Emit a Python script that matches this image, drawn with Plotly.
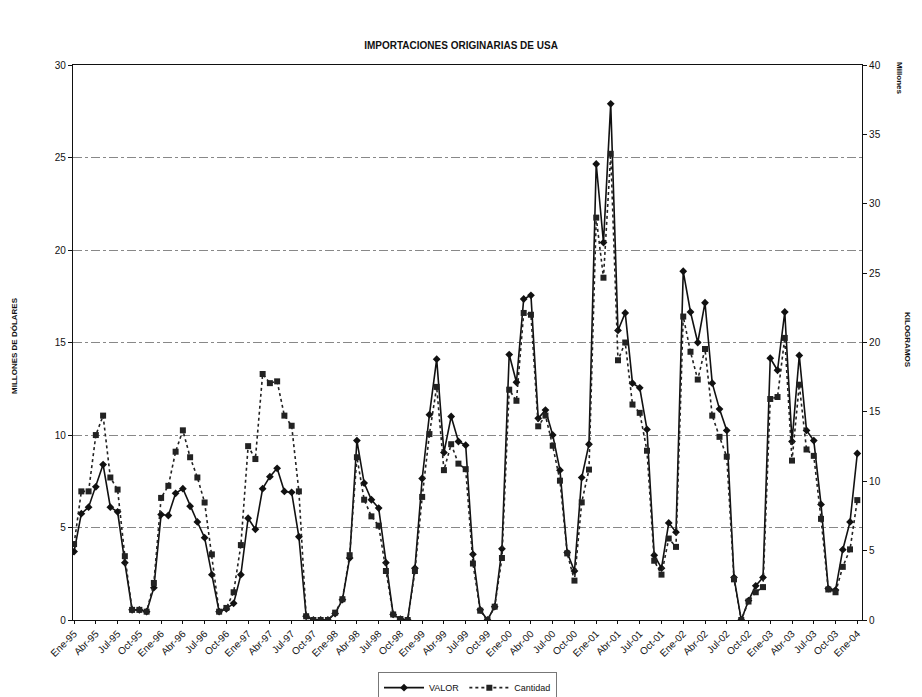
import plotly.graph_objects as go

meses = ["Ene", "Feb", "Mar", "Abr", "May", "Jun", "Jul", "Ago", "Sep", "Oct", "Nov", "Dic"]
anios = ["95", "96", "97", "98", "99", "00", "01", "02", "03"]
categorias = [f"{m}-{a}" for a in anios for m in meses] + ["Ene-04"]

# Millones de dólares (eje izquierdo)
valor = [
    3.7, 5.75, 6.1, 7.2, 8.4, 6.1, 5.85, 3.1, 0.55, 0.55, 0.45, 1.75,
    5.7, 5.65, 6.85, 7.1, 6.15, 5.3, 4.45, 2.45, 0.45, 0.6, 0.9, 2.45,
    5.5, 4.9, 7.1, 7.75, 8.2, 6.95, 6.9, 4.5, 0.2, 0.0, 0.0, 0.0,
    0.35, 1.1, 3.35, 9.7, 7.4, 6.5, 6.05, 3.1, 0.3, 0.05, 0.0, 2.8,
    7.65, 11.1, 14.1, 9.05, 11.0, 9.65, 9.45, 3.55, 0.55, 0.0, 0.72, 3.85,
    14.35, 12.85, 17.35, 17.55, 10.9, 11.35, 10.0, 8.1, 3.65, 2.65, 7.7, 9.5,
    24.65, 20.4, 27.9, 15.65, 16.6, 12.8, 12.55, 10.3, 3.5, 2.8, 5.25, 4.75,
    18.85, 16.65, 15.0, 17.15, 12.8, 11.4, 10.25, 2.3, 0.0, 1.05, 1.85, 2.3,
    14.15, 13.5, 16.65, 9.65, 14.3, 10.25, 9.7, 6.25, 1.7, 1.62, 3.8, 5.3,
    9.0,
]

# Millones de kilogramos (eje derecho)
cantidad = [
    5.47, 9.27, 9.27, 13.33, 14.73, 10.27, 9.4, 4.6, 0.73, 0.73, 0.6, 2.67,
    8.8, 9.67, 12.13, 13.67, 11.73, 10.27, 8.47, 4.73, 0.6, 0.87, 2.0, 5.4,
    12.53, 11.6, 17.73, 17.07, 17.2, 14.73, 14.0, 9.27, 0.27, 0.0, 0.0, 0.0,
    0.53, 1.5, 4.67, 11.73, 8.67, 7.47, 6.8, 3.53, 0.4, 0.07, 0.0, 3.53,
    8.87, 13.4, 16.8, 10.8, 12.67, 11.27, 10.87, 4.07, 0.67, 0.0, 0.96, 4.47,
    16.6, 15.8, 22.13, 22.0, 13.96, 14.73, 12.56, 10.04, 4.8, 2.84, 8.48, 10.84,
    29.0, 24.67, 33.6, 18.72, 20.0, 15.53, 14.93, 12.2, 4.27, 3.27, 5.87, 5.27,
    21.87, 19.33, 17.33, 19.53, 14.73, 13.2, 11.77, 2.93, 0.0, 1.33, 2.0, 2.37,
    15.93, 16.07, 20.33, 11.49, 16.96, 12.29, 11.83, 7.29, 2.2, 2.0, 3.83, 5.09,
    8.64,
]

ticks_x = categorias[::3]
ticks_izq = [0, 5, 10, 15, 20, 25, 30]
ticks_der = [0, 5, 10, 15, 20, 25, 30, 35, 40]

FONT = "Arial, Liberation Sans, sans-serif"

fig = go.Figure()
fig.add_trace(go.Scatter(
    x=categorias, y=valor, name="VALOR", mode="lines+markers",
    line=dict(color="#111111", width=1.6),
    marker=dict(symbol="diamond", size=6, color="#111111"),
    yaxis="y",
))
fig.add_trace(go.Scatter(
    x=categorias, y=cantidad, name="Cantidad", mode="lines+markers",
    line=dict(color="#222222", width=1.6, dash="dot"),
    marker=dict(symbol="square", size=6, color="#222222"),
    yaxis="y2",
))

fig.update_layout(
    width=922, height=697,
    margin=dict(l=65, r=68, t=57, b=85, autoexpand=False),
    paper_bgcolor="white", plot_bgcolor="white",
    font=dict(family=FONT, size=10, color="#111111"),
    title=dict(text="<b>IMPORTACIONES ORIGINARIAS DE USA</b>",
               x=(461 - 8) / 922, xanchor="center", y=1 - 37 / 697, yanchor="middle",
               yref="container", font=dict(size=10, family=FONT)),
    showlegend=True,
    legend=dict(orientation="h", x=0.5, xanchor="center", y=-0.094, yanchor="top",
                bordercolor="#777777", borderwidth=1, bgcolor="white",
                font=dict(size=9, family=FONT), itemwidth=40, tracegroupgap=0),
    xaxis=dict(type="category", range=[-0.15, 108.65],
               tickmode="array", tickvals=ticks_x, ticktext=ticks_x,
               tickangle=-45, tickfont=dict(size=10),
               showgrid=False, showline=True, linecolor="#111111", linewidth=1.2,
               mirror=True, ticks="outside", ticklen=3, tickcolor="#111111"),
    yaxis=dict(range=[0, 30], tickmode="array", tickvals=ticks_izq,
               showgrid=True, gridcolor="#888888", griddash="dashdot", gridwidth=1,
               showline=True, linecolor="#111111", linewidth=1.2,
               ticks="outside", ticklen=4, tickcolor="#111111",
               zeroline=False, tickfont=dict(size=10)),
    yaxis2=dict(range=[0, 40], tickmode="array", tickvals=ticks_der,
                overlaying="y", side="right", showgrid=False,
                showline=True, linecolor="#111111", linewidth=1.2,
                ticks="outside", ticklen=4, tickcolor="#111111",
                zeroline=False, tickfont=dict(size=10)),
)

fig.add_annotation(text="<b>MILLONES DE DÓLARES</b>", xref="paper", yref="paper",
                   x=(14 - 73) / 789, y=(620 - 345) / 555, textangle=-90, showarrow=False,
                   font=dict(size=8, family=FONT), xanchor="center", yanchor="middle")
fig.add_annotation(text="<b>KILOGRAMOS</b>", xref="paper", yref="paper",
                   x=(908 - 73) / 789, y=(620 - 340) / 555, textangle=90, showarrow=False,
                   font=dict(size=8, family=FONT), xanchor="center", yanchor="middle")
fig.add_annotation(text="<b>Millones</b>", xref="paper", yref="paper",
                   x=(899 - 73) / 789, y=(620 - 78) / 555, textangle=90, showarrow=False,
                   font=dict(size=8, family=FONT), xanchor="center", yanchor="middle")

fig.write_html("out.html")
